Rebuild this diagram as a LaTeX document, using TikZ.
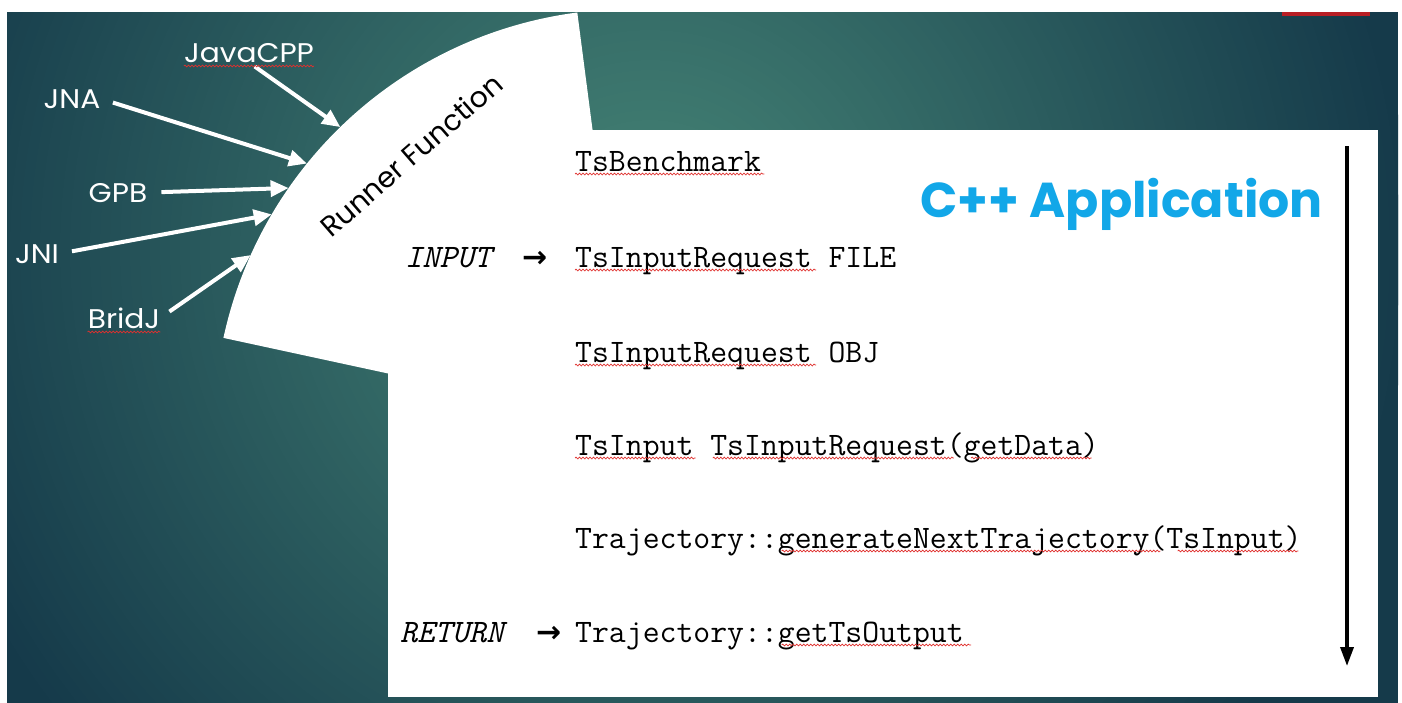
\documentclass[tikz,border=0pt]{standalone}
\usepackage{fontspec}
\setmainfont{Poppins}
\newfontfamily\symfont{DejaVu Sans}
\newfontfamily\headfont{Poppins}
\usetikzlibrary{arrows.meta,decorations.pathmorphing}

\definecolor{glowa}{HTML}{417E72}
\definecolor{glowf}{HTML}{153A4A}
\definecolor{slidered}{HTML}{B81E24}
\definecolor{appblue}{HTML}{12A7E8}
\definecolor{spellred}{HTML}{E0302E}

\newcommand\codesize{\fontsize{32.8}{37}\selectfont}
\newcommand\labsize{\fontsize{27}{32}\selectfont}
\newcommand\widetext[1]{\scalebox{1.1}[1]{#1}}
% wavy spell-check mark under characters #2 .. #2+#3 of a code line #1
\newcommand\spellmark[3]{\draw[squig] ([xshift=#2*17.22pt, yshift=-3pt]#1.base west) -- ++(#3*17.22,0);}

\begin{document}
\begin{tikzpicture}[x=1pt,y=-1pt,
  lab/.style={font=\labsize, text=white, inner sep=0pt, anchor=base},
  code/.style={font=\ttfamily\codesize, inner sep=0pt, anchor=base west},
  codeit/.style={font=\ttfamily\itshape\codesize, inner sep=0pt, anchor=base west},
  pointer/.style={font=\symfont\bfseries\fontsize{30}{34}\selectfont, inner sep=0pt, anchor=base west},
  warrow/.style={white, line width=4pt, -{Triangle[length=18pt,width=16pt]}},
  squig/.style={spellred, line width=0.7pt, decorate,
    decoration={snake, segment length=3.5pt, amplitude=0.9pt}},
]
\useasboundingbox (0,0) rectangle (1402,702);
\fill[white] (0,0) rectangle (1402,702);

% background: teal glow fading to dark blue towards the edges
\begin{scope}
  \clip (7,12) rectangle (1398,712);
  \fill[glowf] (7,12) rectangle (1398,712);
  \foreach \r in {760,750,...,80} {
    \pgfmathsetmacro\p{(760-\r)/6.8}
    \fill[color=glowa!\p!glowf] (650,250) circle [radius=\r];
  }
\end{scope}
\fill[slidered] (1282,12) rectangle (1370,16);

% runner sector and application panel
\coordinate (hub) at (631,426);
\fill[white] (hub) -- ++(-97.4:417) arc[start angle=-97.4, end angle=-167.8, radius=417] -- cycle;
\fill[white] (388,130) rectangle (1378,697);

% binding libraries
\node[lab] (javacpp) at (249,62) {\widetext{JavaCPP}};
\node[lab] (jna) at (72,108) {\widetext{JNA}};
\node[lab] (gpb) at (118,202) {\widetext{GPB}};
\node[lab] (jni) at (37,263) {\widetext{JNI}};
\node[lab] (bridj) at (124,328) {\widetext{BridJ}};

\path (hub) ++(-134.2:417) coordinate (tJava);
\path (hub) ++(-141.0:417) coordinate (tJNA);
\path (hub) ++(-145.2:417) coordinate (tGPB);
\path (hub) ++(-149.5:417) coordinate (tJNI);
\path (hub) ++(-155.8:417) coordinate (tBridJ);

\draw[warrow, shorten <=7pt] (javacpp.south) -- (tJava);
\draw[warrow, shorten <=13pt] (jna.east) -- (tJNA);
\draw[warrow, shorten <=14pt] (gpb.east) -- (tGPB);
\draw[warrow, shorten <=13pt] (jni.east) -- (tJNI);
\draw[warrow, shorten <=11pt] (bridj.east) -- (tBridJ);

\draw[squig] ([yshift=-4pt]javacpp.base west) -- ([yshift=-4pt]javacpp.base east);
\draw[squig] ([yshift=-4pt]bridj.base west) -- ([yshift=-4pt]bridj.base east);

\node[font=\fontsize{28.5}{32}\selectfont, inner sep=0pt, rotate=41] (runner) at (411,155) {Runner Function};

% application
\node[font=\headfont\bfseries\fontsize{49}{56}\selectfont, text=appblue, inner sep=0pt, anchor=base east] (title) at (1323,217) {C++ Application};

\node[code] (l1) at (575,171) {TsBenchmark};
\node[codeit] (inp) at (405,267) {INPUT};
\node[pointer] (inarrow) at (522,267) {→};
\node[code] (l2) at (575,267) {TsInputRequest FILE};
\node[code] (l3) at (575,362) {TsInputRequest OBJ};
\node[code] (l4) at (575,455) {TsInput TsInputRequest(getData)};
\node[code] (l5) at (575,548) {Trajectory::generateNextTrajectory(TsInput)};
\node[codeit] (ret) at (400,642) {RETURN};
\node[pointer] (retarrow) at (536,642) {→};
\node[code] (l6) at (575,642) {Trajectory::getTsOutput};

\spellmark{l1}{0}{11}
\spellmark{l2}{0}{14}
\spellmark{l3}{0}{14}
\spellmark{l4}{0}{7}
\spellmark{l4}{8}{14}
\spellmark{l4}{23}{7}
\spellmark{l5}{12}{22}
\spellmark{l5}{35}{7}
\spellmark{l6}{12}{11}

% flow of execution
\coordinate (flowtop) at (1347,146);
\coordinate (flowend) at (1347,666);
\draw[line width=3.5pt, -{Triangle[length=19pt,width=13pt]}] (flowtop) -- (flowend);
\end{tikzpicture}
\end{document}
